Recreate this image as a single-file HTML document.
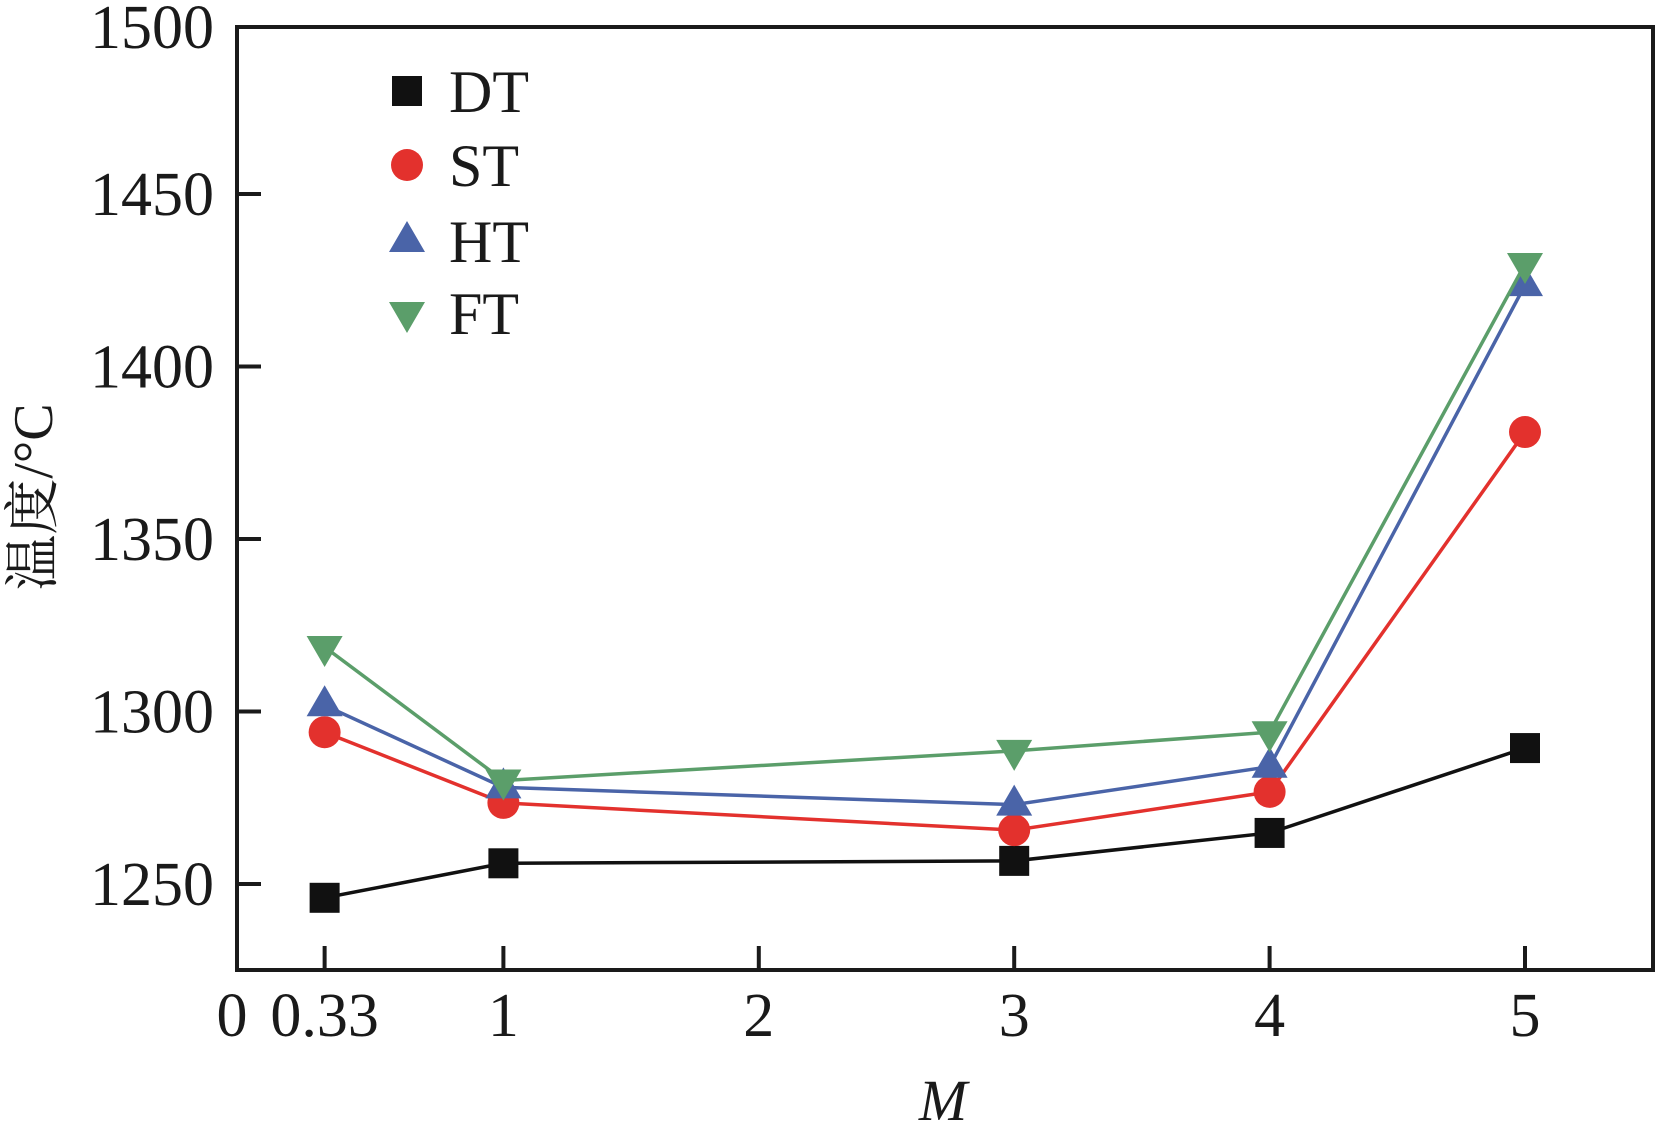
<!DOCTYPE html>
<html><head><meta charset="utf-8"><style>
html,body{margin:0;padding:0;background:#fff;}
svg text{font-family:"Liberation Serif","Noto Serif CJK SC",serif;fill:#1a1a1a;}
</style></head><body>
<svg id="chart" width="1656" height="1141" viewBox="0 0 1656 1141" xmlns="http://www.w3.org/2000/svg">
<g id="axes"></g>
<g id="series"></g>
<g id="legend"></g>
<text transform="translate(52,497) rotate(-90)" text-anchor="middle" font-size="56">温度/°C</text>
<text x="943" y="1120" text-anchor="middle" font-size="58" font-style="italic">M</text>
</svg>
<script>
const categories = ["0.33","1","3","4","5"];
const xPositions = [0.3, 1, 3, 4, 5];
const dtValues = [1246, 1256, 1256.7, 1264.8, 1289.4];
const stValues = [1294, 1273.5, 1265.6, 1276.7, 1381];
const htValues = [1301.8, 1278, 1273, 1284, 1423.6];
const ftValues = [1318.7, 1280, 1288.6, 1294, 1429.7];
const yTicks = [1250, 1300, 1350, 1400, 1450, 1500];
const xTicks = [0.3, 1, 2, 3, 4, 5];
const xTickLabels = ["0.33","1","2","3","4","5"];
const seriesNames = ["DT","ST","HT","FT"];

const NS="http://www.w3.org/2000/svg";
const L=237,R=1653,T=27,B=970;
function px(x){return 248+x*255.4;}
function py(v){return 884-(v-1250)*3.45;}
function mk(tag,attrs,parent){const e=document.createElementNS(NS,tag);for(const k in attrs)e.setAttribute(k,attrs[k]);parent.appendChild(e);return e;}
const axes=document.getElementById('axes');
const frame=mk('rect',{x:L,y:T,width:R-L,height:B-T,fill:'none',stroke:'#1a1a1a','stroke-width':4},axes);


yTicks.forEach(v=>{
  const y=py(v);
  if(y>T+5){const t=mk('line',{x1:L,x2:L+24,y1:y,y2:y,stroke:'#1a1a1a','stroke-width':4},axes);
  
  }
  const lab=mk('text',{x:214,y:Math.max(y,T)+21,'text-anchor':'end','font-size':62},axes);
  lab.textContent=v;
  
  
});
xTicks.forEach((v,i)=>{
  const x=px(v);
  const t=mk('line',{x1:x,x2:x,y1:B,y2:B-24,stroke:'#1a1a1a','stroke-width':4},axes);
  
  
  const lab=mk('text',{x:x,y:1036,'text-anchor':'middle','font-size':62},axes);
  lab.textContent=xTickLabels[i];
  
  
});
const zero=mk('text',{x:232,y:1036,'text-anchor':'middle','font-size':62},axes);
zero.textContent="0";



const colors={DT:'#111111',ST:'#e3312d',HT:'#4a64a8',FT:'#5b9e6a'};
function marker(type,x,y,parent){
  let e;
  if(type==='DT') e=mk('rect',{x:x-15,y:y-15,width:30,height:30,fill:colors.DT},parent);
  else if(type==='ST') e=mk('circle',{cx:x,cy:y,r:16,fill:colors.ST},parent);
  else if(type==='HT') e=mk('polygon',{points:`${x},${y-20} ${x-18},${y+11} ${x+18},${y+11}`,fill:colors.HT},parent);
  else e=mk('polygon',{points:`${x},${y+20} ${x-18},${y-11} ${x+18},${y-11}`,fill:colors.FT},parent);
  return e;
}
const sg=document.getElementById('series');
const allVals={DT:dtValues,ST:stValues,HT:htValues,FT:ftValues};
seriesNames.forEach(name=>{
  const vals=allVals[name];
  const g=mk('g',{},sg);
  
  
  const pts=vals.map((v,i)=>px(xPositions[i])+','+py(v)).join(' ');
  const line=mk('polyline',{points:pts,fill:'none',stroke:colors[name],'stroke-width':3.5},g);
  
  
  vals.forEach((v,i)=>{
    const m=marker(name,px(xPositions[i]),py(v),g);
    
    
  });
});
const lg=document.getElementById('legend');
const legY=[91,165,241,313];
seriesNames.forEach((name,i)=>{
  const g=mk('g',{},lg);
  
  
  marker(name,407,legY[i],g);
  const t=mk('text',{x:449,y:legY[i]+21,'font-size':60},g);
  t.textContent=name;
});
</script>
</body></html>
